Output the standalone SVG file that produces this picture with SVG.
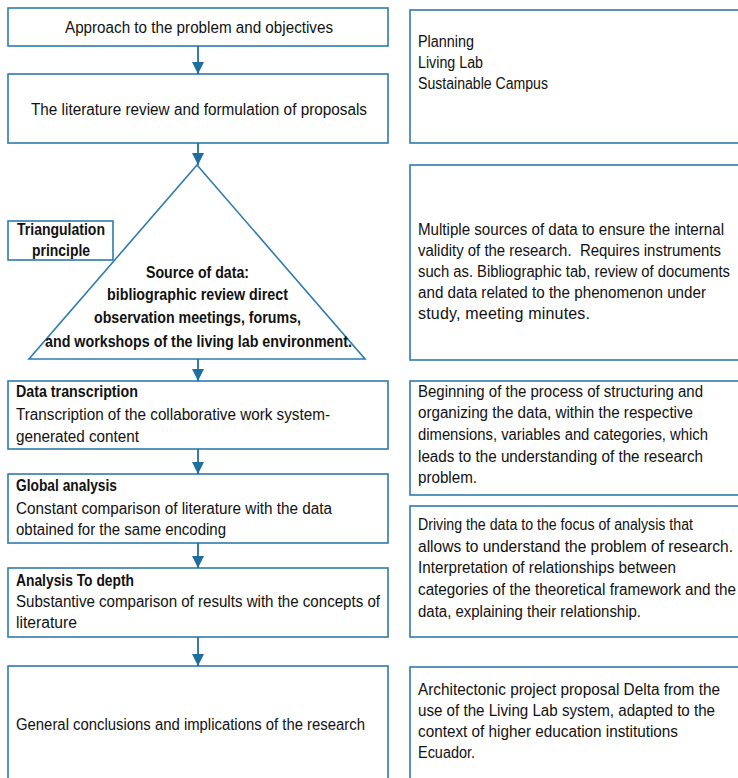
<svg xmlns="http://www.w3.org/2000/svg" width="738" height="778" viewBox="0 0 738 778">
  <style>
    .box { fill: #ffffff; stroke: #2e7bb0; stroke-width: 1.6; }
    .link { stroke: #1f6e9e; stroke-width: 1.8; fill: none; }
    text { font-family: "Liberation Sans", Arial, sans-serif; font-size: 16px; fill: #111111; }
    .b { font-weight: bold; }
  </style>
  <defs>
    <marker id="arrow" markerUnits="userSpaceOnUse" markerWidth="14" markerHeight="14" refX="12" refY="7" orient="auto">
      <path d="M0,1 L12,7 L0,13 Z" fill="#1f6e9e"/>
    </marker>
  </defs>
  <rect width="738" height="778" fill="#ffffff"/>

  <!-- left column: process steps -->
  <g id="approach">
    <rect class="box" x="8" y="8" width="380" height="38"/>
    <text x="65" y="33" textLength="268" lengthAdjust="spacingAndGlyphs">Approach to the problem and objectives</text>
  </g>
  <g id="literature">
    <rect class="box" x="8" y="74" width="380" height="69"/>
    <text x="31" y="115" textLength="336" lengthAdjust="spacingAndGlyphs">The literature review and formulation of proposals</text>
  </g>
  <g id="source">
    <polygon class="box" points="197,165 365,359 29,359"/>
    <text class="b" x="146" y="278" textLength="103" lengthAdjust="spacingAndGlyphs">Source of data:</text>
    <text class="b" x="107" y="300" textLength="181" lengthAdjust="spacingAndGlyphs">bibliographic review direct</text>
    <text class="b" x="94" y="323" textLength="207" lengthAdjust="spacingAndGlyphs">observation meetings, forums,</text>
    <text class="b" x="45" y="347" textLength="307" lengthAdjust="spacingAndGlyphs">and workshops of the living lab environment.</text>
  </g>
  <g id="triangulation">
    <rect class="box" x="8" y="221" width="105" height="39"/>
    <text class="b" x="17" y="235" textLength="88" lengthAdjust="spacingAndGlyphs">Triangulation</text>
    <text class="b" x="32" y="256" textLength="58" lengthAdjust="spacingAndGlyphs">principle</text>
  </g>
  <g id="transcription">
    <rect class="box" x="8" y="381" width="380" height="68"/>
    <text class="b" x="16" y="397" textLength="122" lengthAdjust="spacingAndGlyphs">Data transcription</text>
    <text x="16" y="420" textLength="314" lengthAdjust="spacingAndGlyphs">Transcription of the collaborative work system-</text>
    <text x="16" y="442" textLength="123" lengthAdjust="spacingAndGlyphs">generated content</text>
  </g>
  <g id="global">
    <rect class="box" x="8" y="474" width="380" height="69"/>
    <text class="b" x="16" y="491" textLength="101" lengthAdjust="spacingAndGlyphs">Global analysis</text>
    <text x="16" y="514" textLength="316" lengthAdjust="spacingAndGlyphs">Constant comparison of literature with the data</text>
    <text x="16" y="535" textLength="210" lengthAdjust="spacingAndGlyphs">obtained for the same encoding</text>
  </g>
  <g id="depth">
    <rect class="box" x="8" y="568" width="380" height="69"/>
    <text class="b" x="16" y="586" textLength="118" lengthAdjust="spacingAndGlyphs">Analysis To depth</text>
    <text x="16" y="607" textLength="364" lengthAdjust="spacingAndGlyphs">Substantive comparison of results with the concepts of</text>
    <text x="16" y="628" textLength="61" lengthAdjust="spacingAndGlyphs">literature</text>
  </g>
  <g id="conclusions">
    <rect class="box" x="8" y="666" width="380" height="130"/>
    <text x="16" y="730" textLength="349" lengthAdjust="spacingAndGlyphs">General conclusions and implications of the research</text>
  </g>

  <!-- right column: notes -->
  <g id="note-topics">
    <rect class="box" x="410" y="10" width="340" height="133"/>
    <text x="418" y="47" textLength="56" lengthAdjust="spacingAndGlyphs">Planning</text>
    <text x="418" y="68" textLength="65" lengthAdjust="spacingAndGlyphs">Living Lab</text>
    <text x="418" y="89" textLength="130" lengthAdjust="spacingAndGlyphs">Sustainable Campus</text>
  </g>
  <g id="note-sources">
    <rect class="box" x="410" y="165" width="340" height="195"/>
    <text x="418" y="235" textLength="306" lengthAdjust="spacingAndGlyphs">Multiple sources of data to ensure the internal</text>
    <text x="418" y="256" textLength="303" lengthAdjust="spacingAndGlyphs" xml:space="preserve">validity of the research.  Requires instruments</text>
    <text x="418" y="277" textLength="312" lengthAdjust="spacingAndGlyphs">such as. Bibliographic tab, review of documents</text>
    <text x="418" y="298" textLength="288" lengthAdjust="spacingAndGlyphs">and data related to the phenomenon under</text>
    <text x="418" y="319" textLength="172" lengthAdjust="spacing">study, meeting minutes.</text>
  </g>
  <g id="note-structuring">
    <rect class="box" x="410" y="381" width="340" height="114"/>
    <text x="418" y="397" textLength="285" lengthAdjust="spacingAndGlyphs">Beginning of the process of structuring and</text>
    <text x="418" y="418" textLength="275" lengthAdjust="spacingAndGlyphs">organizing the data, within the respective</text>
    <text x="418" y="440" textLength="290" lengthAdjust="spacingAndGlyphs">dimensions, variables and categories, which</text>
    <text x="418" y="462" textLength="285" lengthAdjust="spacingAndGlyphs">leads to the understanding of the research</text>
    <text x="418" y="483" textLength="59" lengthAdjust="spacingAndGlyphs">problem.</text>
  </g>
  <g id="note-analysis">
    <rect class="box" x="410" y="506" width="340" height="131"/>
    <text x="418" y="530" textLength="275" lengthAdjust="spacingAndGlyphs">Driving the data to the focus of analysis that</text>
    <text x="418" y="552" textLength="315" lengthAdjust="spacingAndGlyphs">allows to understand the problem of research.</text>
    <text x="418" y="573" textLength="258" lengthAdjust="spacingAndGlyphs">Interpretation of relationships between</text>
    <text x="418" y="595" textLength="318" lengthAdjust="spacingAndGlyphs">categories of the theoretical framework and the</text>
    <text x="418" y="617" textLength="223" lengthAdjust="spacingAndGlyphs">data, explaining their relationship.</text>
  </g>
  <g id="note-proposal">
    <rect class="box" x="410" y="667" width="340" height="130"/>
    <text x="418" y="695" textLength="302" lengthAdjust="spacingAndGlyphs">Architectonic project proposal Delta from the</text>
    <text x="418" y="716" textLength="297" lengthAdjust="spacingAndGlyphs">use of the Living Lab system, adapted to the</text>
    <text x="418" y="737" textLength="260" lengthAdjust="spacingAndGlyphs">context of higher education institutions</text>
    <text x="418" y="758" textLength="57" lengthAdjust="spacingAndGlyphs">Ecuador.</text>
  </g>

  <!-- connectors -->
  <g id="connectors">
    <line class="link" x1="198" y1="46" x2="198" y2="74" marker-end="url(#arrow)"/>
    <line class="link" x1="198" y1="143" x2="198" y2="165" marker-end="url(#arrow)"/>
    <line class="link" x1="198" y1="359" x2="198" y2="381" marker-end="url(#arrow)"/>
    <line class="link" x1="198" y1="449" x2="198" y2="474" marker-end="url(#arrow)"/>
    <line class="link" x1="198" y1="543" x2="198" y2="568" marker-end="url(#arrow)"/>
    <line class="link" x1="198" y1="637" x2="198" y2="666" marker-end="url(#arrow)"/>
  </g>
</svg>
